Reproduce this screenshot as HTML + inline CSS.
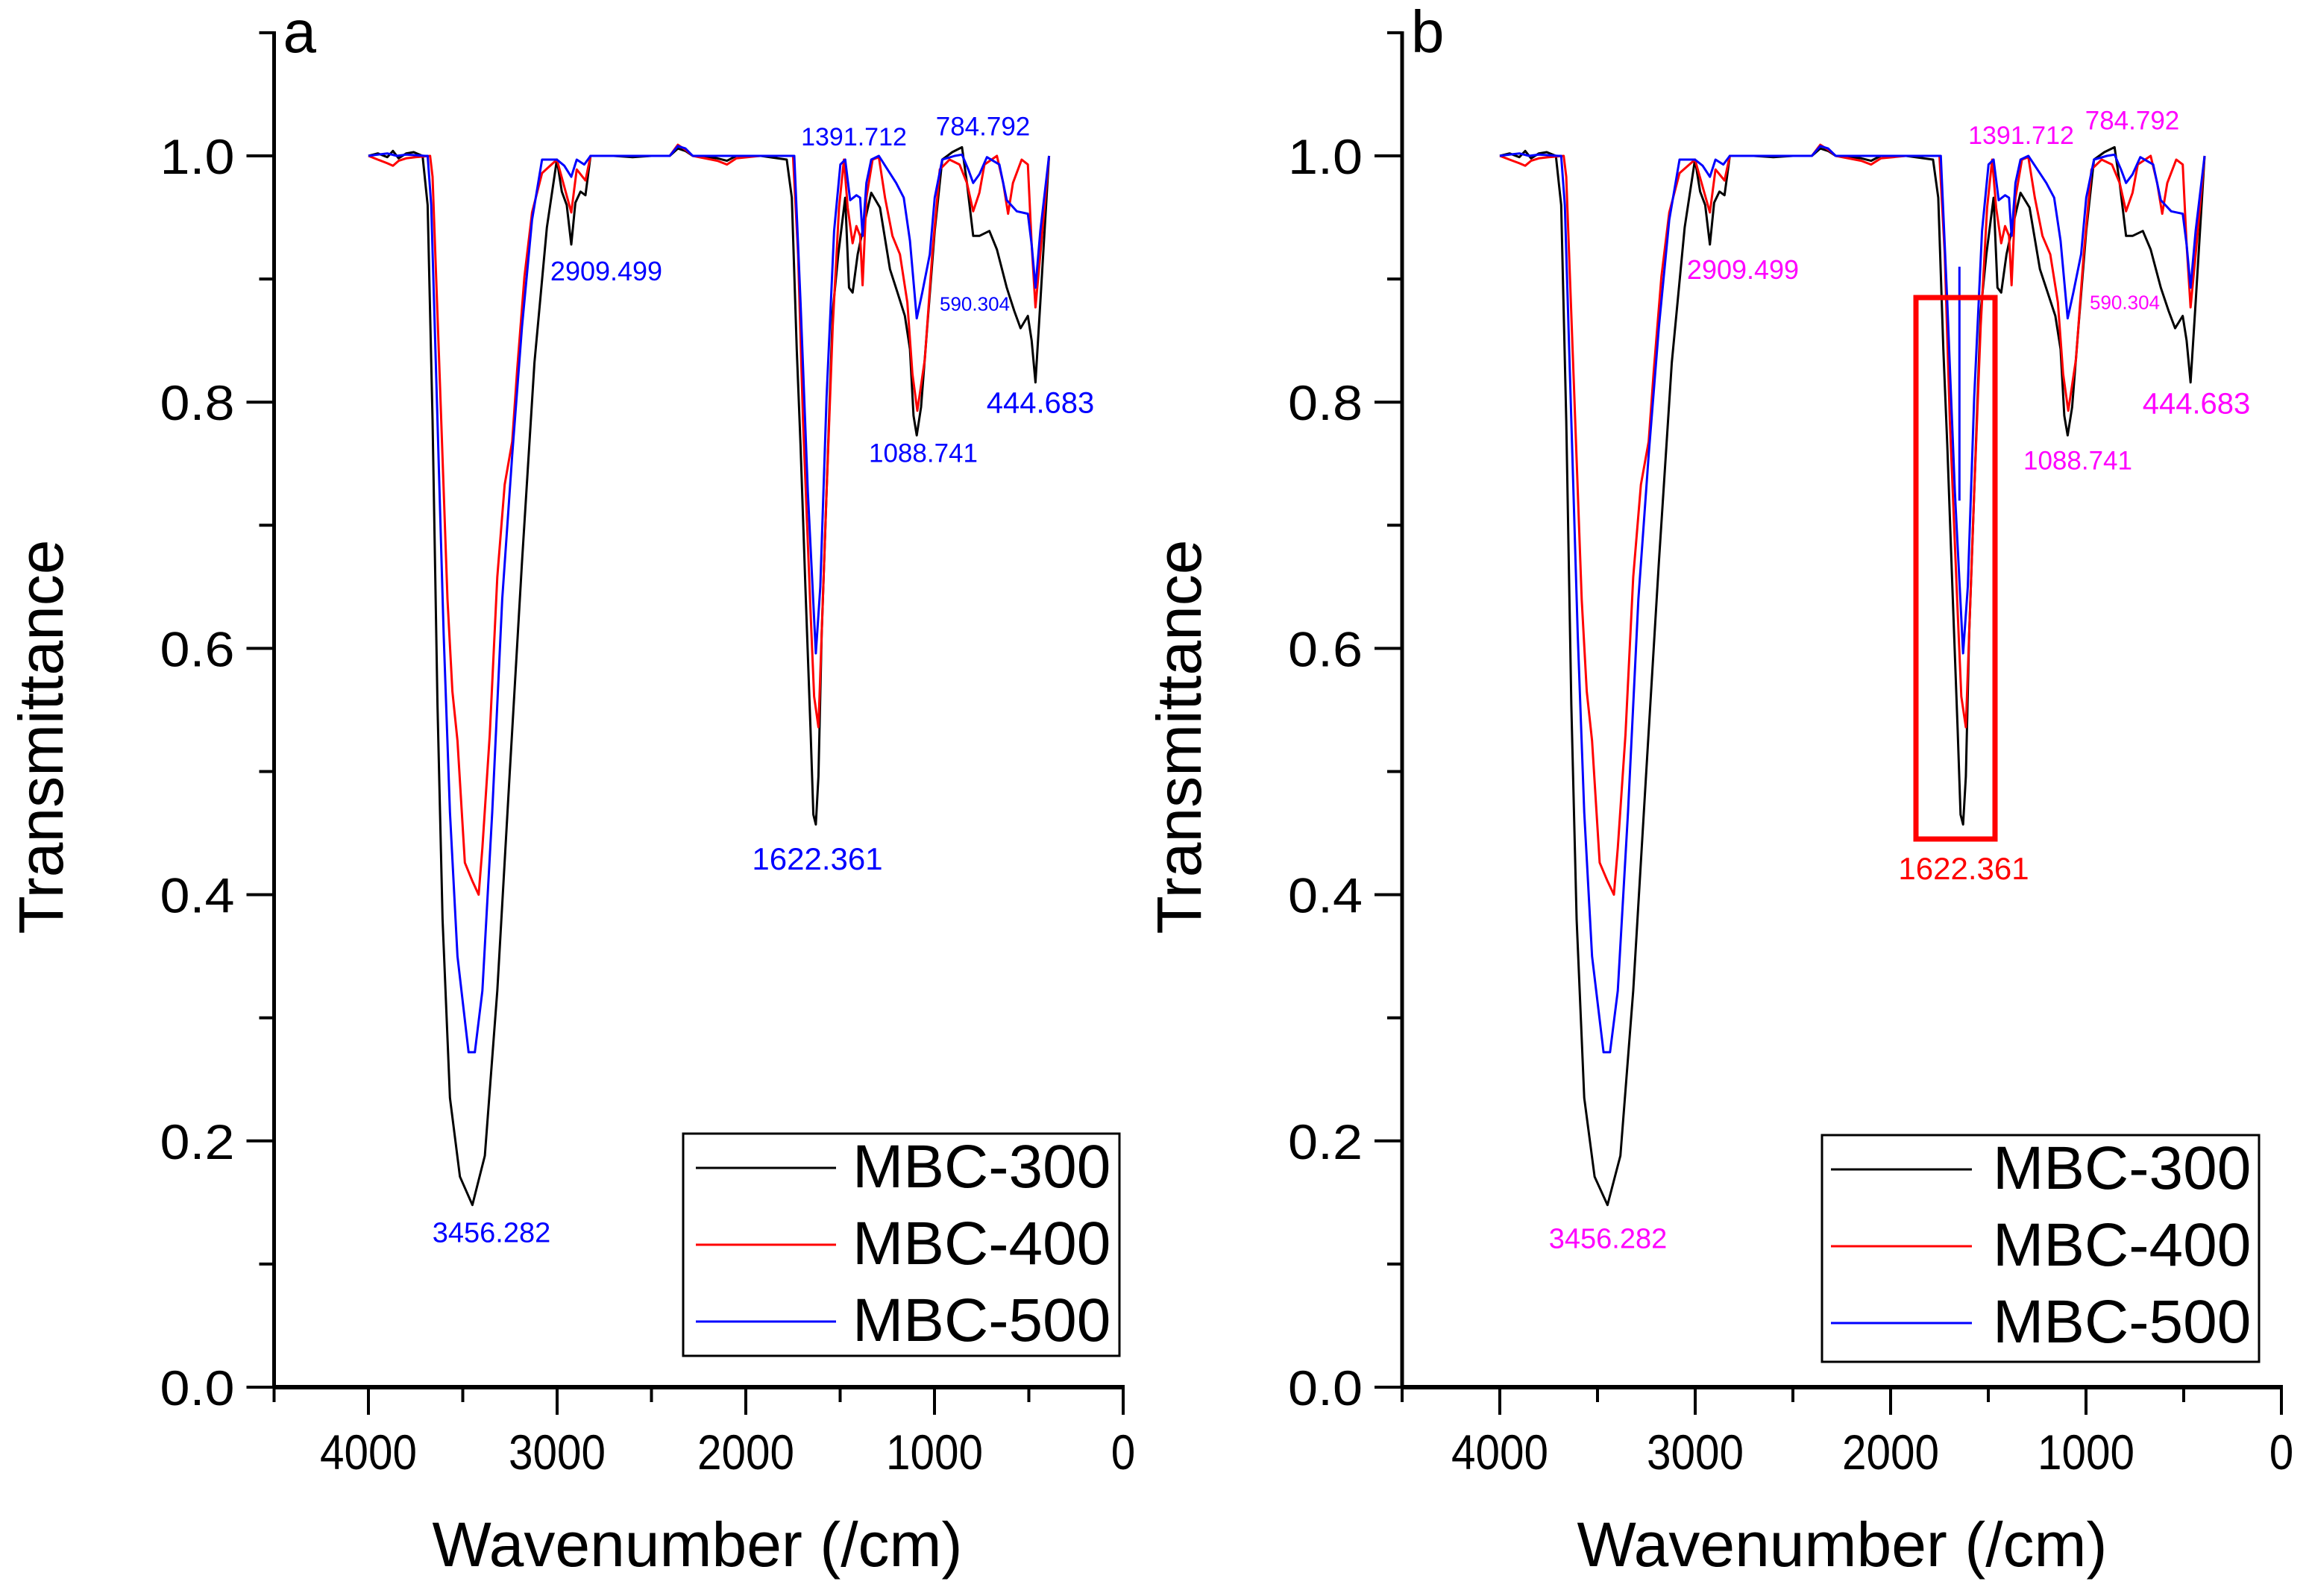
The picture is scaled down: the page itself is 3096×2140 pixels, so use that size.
<!DOCTYPE html>
<html><head><meta charset="utf-8">
<style>
html,body{margin:0;padding:0;background:#fff;}
svg{display:block;}
text{font-family:"Liberation Sans",Arial,sans-serif;}
</style></head>
<body>
<svg id="chart" width="3096" height="2140" viewBox="0 0 3096 2140" xmlns="http://www.w3.org/2000/svg">
<rect width="3096" height="2140" fill="#fff"/>
</svg>
<script>
// ---- data (wavenumber cm^-1, transmittance) ----
const wn300 = [4000,3950,3900,3870,3840,3800,3760,3713,3686,3660,3634,3607,3568,3515,3449,3383,3317,3252,3186,3120,3054,3001,2975,2949,2925,2903,2876,2850,2823,2700,2600,2500,2403,2360,2320,2281,2150,2100,2050,1921,1783,1756,1730,1710,1684,1657,1642,1629,1615,1598,1572,1539,1510,1473,1453,1434,1407,1381,1335,1289,1236,1196,1157,1130,1111,1094,1071,1038,999,959,906,854,828,795,762,709,669,617,577,544,505,485,465,439,393];
const t300 = [1.0,1.002,0.999,1.004,0.998,1.002,1.003,1.0,0.96,0.785,0.554,0.38,0.235,0.171,0.148,0.188,0.322,0.496,0.670,0.832,0.942,0.997,0.971,0.96,0.928,0.962,0.971,0.968,1.0,1.0,0.999,1.0,1.0,1.006,1.004,1.0,0.998,0.996,1.0,1.0,0.997,0.966,0.843,0.765,0.650,0.534,0.465,0.457,0.496,0.611,0.727,0.874,0.920,0.966,0.893,0.889,0.920,0.939,0.970,0.958,0.908,0.889,0.870,0.843,0.789,0.773,0.796,0.862,0.939,0.997,1.003,1.007,0.978,0.935,0.935,0.939,0.924,0.893,0.874,0.860,0.870,0.850,0.816,0.881,1.0];
const wn400 = [4000,3950,3900,3870,3840,3800,3750,3673,3660,3621,3581,3555,3528,3489,3449,3416,3396,3357,3317,3278,3238,3212,3173,3133,3080,3001,2955,2925,2896,2850,2823,2403,2360,2320,2281,2150,2100,2050,1921,1750,1723,1697,1657,1638,1615,1598,1572,1539,1506,1480,1460,1434,1414,1394,1381,1361,1328,1295,1262,1223,1183,1144,1117,1091,1051,1012,972,920,867,828,795,762,735,669,636,610,584,538,505,485,465,439,393];
const t400 = [1.0,0.997,0.994,0.992,0.996,0.998,0.999,1.0,0.983,0.815,0.640,0.565,0.525,0.426,0.411,0.400,0.438,0.530,0.658,0.733,0.768,0.826,0.902,0.954,0.986,0.997,0.971,0.954,0.989,0.980,1.0,1.0,1.009,1.005,1.0,0.996,0.993,0.998,1.0,1.0,0.920,0.785,0.630,0.561,0.536,0.611,0.727,0.862,0.958,0.997,0.958,0.929,0.943,0.935,0.895,0.966,0.997,0.999,0.966,0.935,0.920,0.881,0.823,0.793,0.835,0.920,0.989,0.997,0.993,0.978,0.955,0.970,0.993,1.0,0.978,0.953,0.978,0.997,0.993,0.928,0.877,0.920,1.0];
const wn500 = [4000,3950,3900,3850,3800,3700,3686,3667,3634,3601,3568,3528,3469,3436,3396,3344,3291,3238,3186,3133,3080,3001,2962,2925,2896,2856,2823,2403,2360,2320,2281,1921,1743,1710,1671,1629,1605,1572,1532,1499,1473,1447,1414,1394,1381,1361,1335,1295,1249,1203,1163,1130,1094,1065,1025,999,959,893,854,821,795,762,722,656,617,564,505,485,465,439,393];
const t500 = [1.0,1.001,1.002,1.0,1.001,1.0,1.0,0.96,0.785,0.611,0.467,0.350,0.272,0.272,0.322,0.467,0.640,0.757,0.861,0.948,0.997,0.997,0.992,0.983,0.997,0.993,1.0,1.0,1.008,1.006,1.0,1.0,1.0,0.881,0.727,0.596,0.650,0.804,0.939,0.993,0.997,0.964,0.968,0.966,0.935,0.978,0.997,1.0,0.989,0.978,0.966,0.931,0.868,0.889,0.920,0.966,0.997,1.0,1.001,0.989,0.978,0.985,0.999,0.993,0.964,0.955,0.953,0.928,0.893,0.939,1.0];
const seriesNames = ["MBC-300","MBC-400","MBC-500"];
const xTicks = [4000,3000,2000,1000,0];
const yTicks = [0.0,0.2,0.4,0.6,0.8,1.0];
const peakLabels = ["2909.499","1391.712","784.792","590.304","444.683","1088.741","1622.361","3456.282"];

const NS = "http://www.w3.org/2000/svg";
const svg = document.getElementById('chart');
function mk(tag, attrs, parent){ const e=document.createElementNS(NS,tag); for(const k in attrs) e.setAttribute(k,attrs[k]); (parent||svg).appendChild(e); return e; }

const colors = ["#000000","#ff0000","#0000ff"];
const wnArr = [wn300,wn400,wn500];
const tArr = [t300,t400,t500];

function drawPanel(p){
  const g = mk('g',{});
  
  
  const xAt = w => p.x0 + (4500 - w) * p.k;
  const yAt = t => 1860 - t * 1651;
  for(let s=0;s<3;s++){
    const pts = wnArr[s].map((w,i)=> xAt(w).toFixed(1)+','+yAt(tArr[s][i]).toFixed(1)).join(' ');
    const pl = mk('polyline',{points:pts,fill:'none',stroke:colors[s],'stroke-width':3,'stroke-linejoin':'round'},g);
    
    
  }
  const ya = mk('line',{x1:xAt(4500),y1:42,x2:xAt(4500),y2:1862,stroke:'#000','stroke-width':5},g);
  
  
  const xa = mk('line',{x1:xAt(4500)-2,y1:1860,x2:xAt(0)+2,y2:1860,stroke:'#000','stroke-width':6},g);
  
  
  for(let w=4500; w>=0; w-=500){
    const major = (w % 1000 === 0);
    mk('line',{x1:xAt(w),y1:1860,x2:xAt(w),y2:1860+(major?37:20),stroke:'#000','stroke-width':4},g);
  }
  xTicks.forEach(w=>{
    const t = mk('text',{x:xAt(w),y:1970,'font-size':66,'text-anchor':'middle',textLength:(String(w).length*32.5),lengthAdjust:'spacingAndGlyphs'},g);
    t.textContent = String(w);
    
    
  });
  for(let i=0;i<=11;i++){
    const v=i/10; const major=(i%2===0);
    mk('line',{x1:xAt(4500),y1:yAt(v),x2:xAt(4500)-(major?37:20),y2:yAt(v),stroke:'#000','stroke-width':4},g);
  }
  yTicks.forEach(v=>{
    const t = mk('text',{x:xAt(4500)-53,y:yAt(v)+24,'font-size':66,'text-anchor':'end',textLength:100,lengthAdjust:'spacingAndGlyphs'},g);
    t.textContent = v.toFixed(1);
    
    
  });
  const xt = mk('text',{x:p.xtc,y:2100,'font-size':84,'text-anchor':'middle'},g);
  xt.textContent = 'Wavenumber (/cm)';
  
  
  const yt = mk('text',{x:0,y:0,'font-size':84,'text-anchor':'middle',transform:'translate('+p.ytx+',988) rotate(-90)'},g);
  yt.textContent = 'Transmittance';
  
  
  const pl = mk('text',{x:xAt(4500)+12,y:70,'font-size':80},g);
  pl.textContent = p.id;
  
  
  p.ann.forEach((a,i)=>{
    const t = mk('text',{x:a[0],y:a[1]+a[2]*0.36,'font-size':a[2],'text-anchor':'middle',fill:a[3]||p.annColor},g);
    t.textContent = peakLabels[i];
    
    
  });
  const L = p.leg;
  const lg = mk('g',{},g);
  
  
  mk('rect',{x:L.x,y:L.y,width:L.w,height:L.h,fill:'#fff',stroke:'#000','stroke-width':3},lg);
  for(let s=0;s<3;s++){
    const yy = L.y + 46 + s*103;
    mk('line',{x1:L.lx1,y1:yy,x2:L.lx2,y2:yy,stroke:colors[s],'stroke-width':3},lg);
    const t = mk('text',{x:L.tx,y:yy+26,'font-size':82},lg);
    t.textContent = seriesNames[s];
    
    
  }
  return {xAt,yAt,g};
}

const A = drawPanel({id:'a',x0:367.5,k:0.2530,xtc:935,ytx:84,annColor:'#0000ff',
  ann:[[813,363,36],[1145,183,34],[1318,169,35],[1307,407,26],[1395,539,40],[1238,607,35],[1096,1151,42],[659,1652,38]],
  leg:{x:916,y:1520,w:585,h:298,lx1:933,lx2:1121,tx:1143}});
const B = drawPanel({id:'b',x0:1880,k:0.2620,xtc:2470,ytx:1610,annColor:'#ff00ff',
  ann:[[2337,361,36],[2710,181,34],[2859,161,35],[2849,405,26],[2945,540,40],[2786,617,35],[2633,1164,42,'#ff0000'],[2156,1660,38]],
  leg:{x:2443,y:1522,w:586,h:304,lx1:2455,lx2:2644,tx:2672}});

const ml = mk('line',{x1:B.xAt(1602)-12,y1:B.yAt(0.91),x2:B.xAt(1602)-12,y2:B.yAt(0.72),stroke:'#0000ff','stroke-width':3});


const hb = mk('rect',{x:2569,y:399,width:106,height:726,fill:'none',stroke:'#ff0000','stroke-width':7});


</script>
</body></html>
